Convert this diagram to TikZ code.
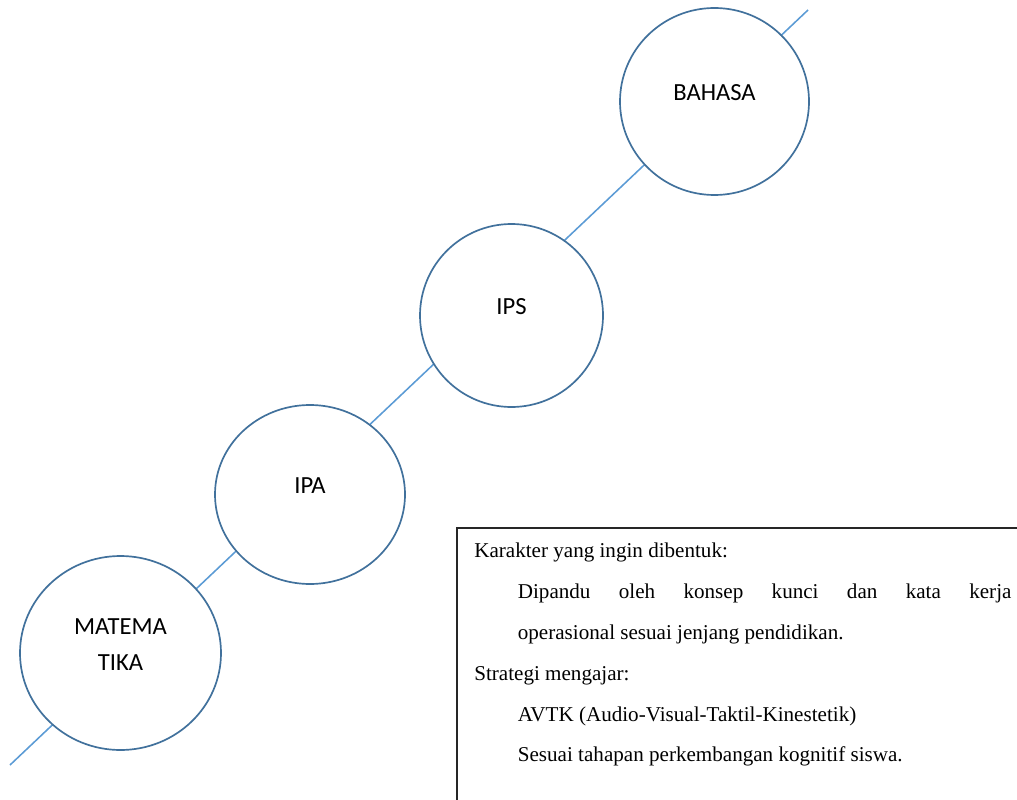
\documentclass[tikz,border=0pt]{standalone}
\usepackage{fontspec}
\setmainfont{Liberation Serif}
\newfontfamily\mapelfont{Carlito}
\usetikzlibrary{shapes.geometric}

\definecolor{garis}{HTML}{5B9BD5}
\definecolor{tepi}{HTML}{41719C}
\def\mdhalaman{(0,0) rectangle (1017,800)}

\tikzset{
  mapel/.style={ellipse, draw=tepi, line width=1.2pt, fill=white, inner sep=0pt},
  judul/.style={font=\mapelfont\fontsize{17.5}{25}\selectfont, align=center, yshift=6pt}
}

\begin{document}
\begin{tikzpicture}[x=0.025cm, y=-0.025cm]

	\clip \mdhalaman;
	\fill[white] \mdhalaman;

	% garis
	\coordinate (awal) at (10,765);
	\coordinate (akhir) at (808,10);
	\draw[garis, line width=1.1pt] (awal) -- (akhir);

	% lingkaran
	\node[mapel, minimum width=189*0.025cm, minimum height=187*0.025cm,
	      label={[judul]center:BAHASA}] (bahasa) at (714.5,101.5) {};
	\node[mapel, minimum width=183*0.025cm, minimum height=183*0.025cm,
	      label={[judul]center:IPS}] (ips) at (511.5,315.5) {};
	\node[mapel, minimum width=190*0.025cm, minimum height=179*0.025cm,
	      label={[judul]center:IPA}] (ipa) at (310,494.5) {};
	\node[mapel, minimum width=201*0.025cm, minimum height=194*0.025cm,
	      label={[judul]center:MATEMA\\TIKA}] (mtk) at (120.5,653) {};

	% kotak
	\draw[black!85, line width=1.4pt] (457,528) rectangle (1040,820);
	\node[anchor=north west, inner sep=0pt, align=left,
	      font=\fontsize{15}{29}\selectfont] (ket) at (474,543) {%
		Karakter yang ingin dibentuk:\\
		\hspace*{31pt}\makebox[351pt][s]{Dipandu oleh konsep kunci dan kata kerja}\\
		\hspace*{31pt}operasional sesuai jenjang pendidikan.\\
		Strategi mengajar:\\
		\hspace*{31pt}AVTK (Audio-Visual-Taktil-Kinestetik)\\
		\hspace*{31pt}Sesuai tahapan perkembangan kognitif siswa.};

\end{tikzpicture}
\end{document}
